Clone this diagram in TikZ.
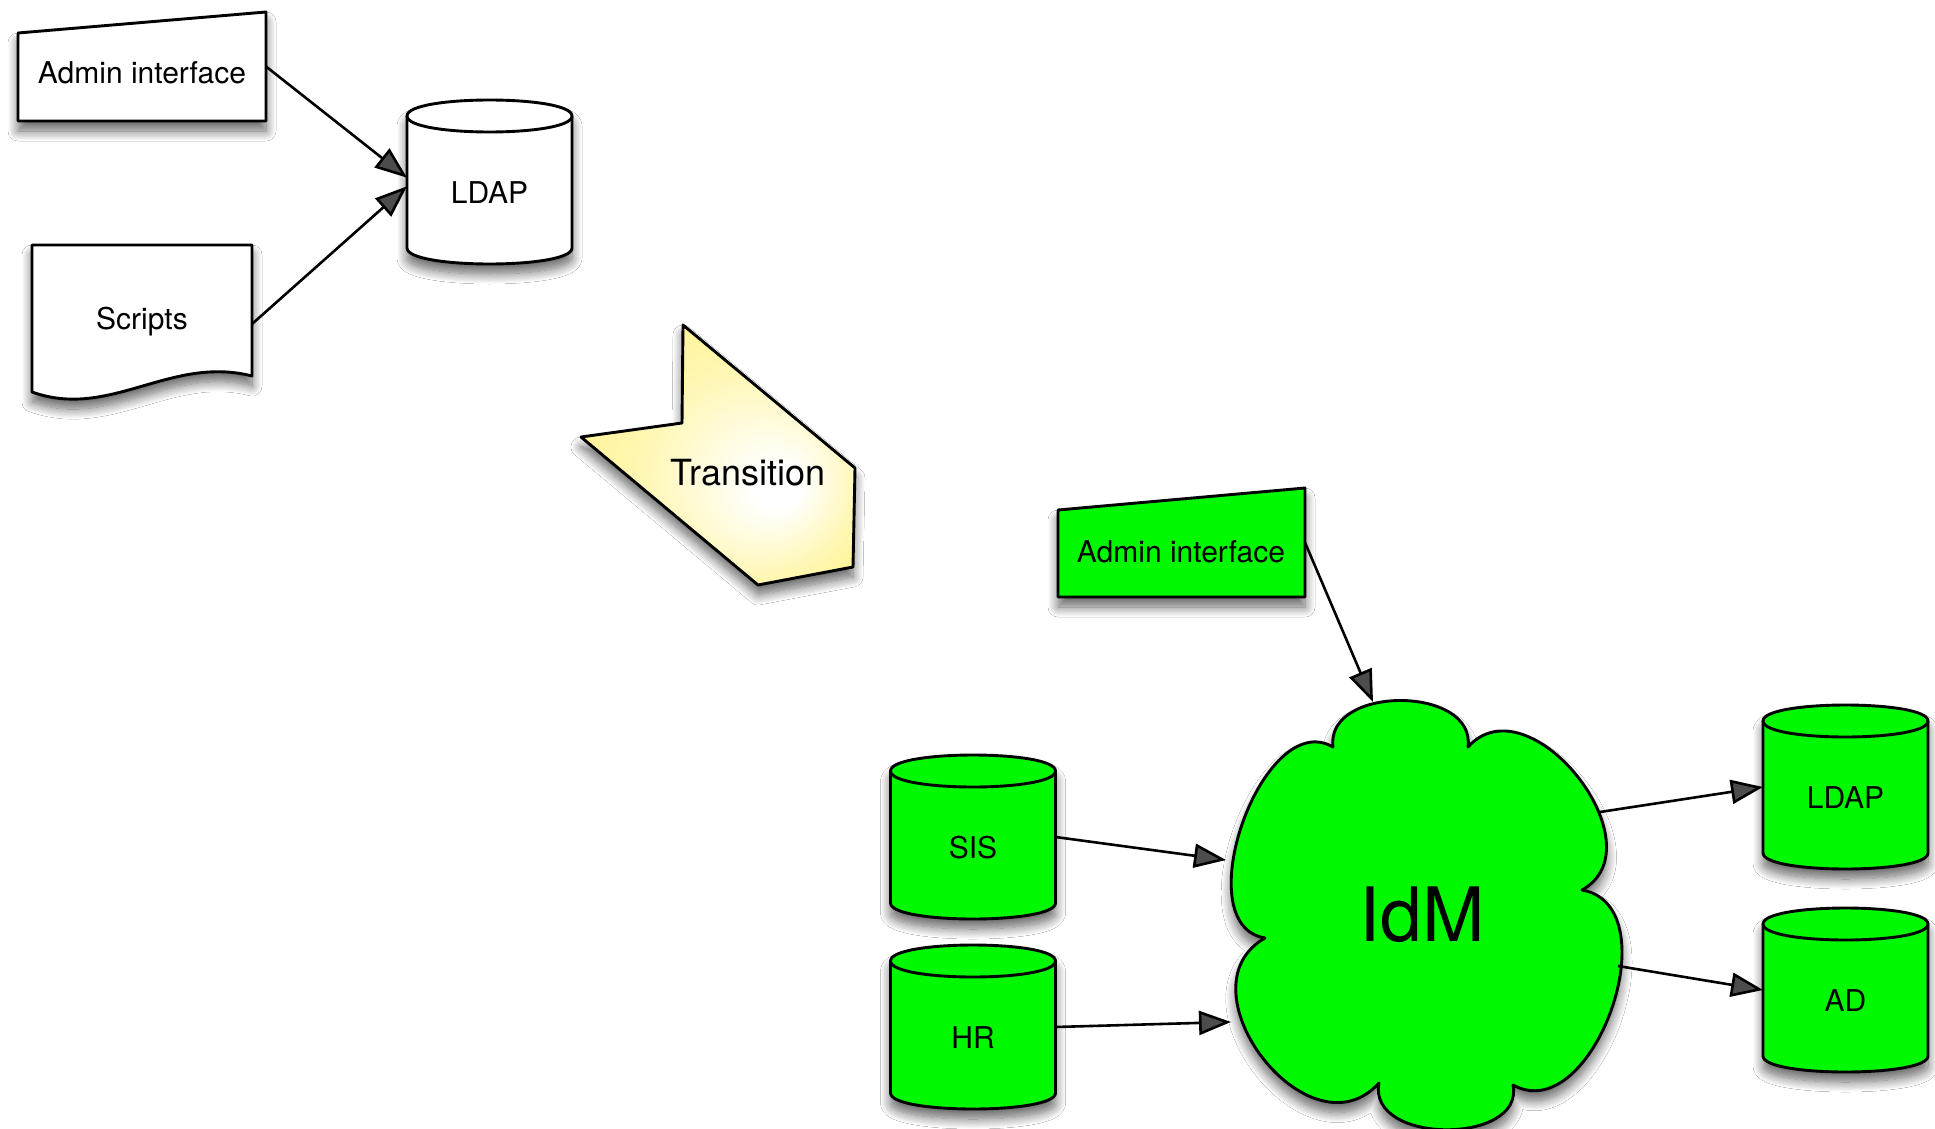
\documentclass[tikz,border=0pt]{standalone}
\usepackage{fontspec}
\setmainfont{TeX Gyre Heros}
\usetikzlibrary{arrows.meta,shadows.blur,calc}

\definecolor{idmgreen}{RGB}{0,248,0}
\definecolor{tyellow}{RGB}{255,240,118}
\pgfdeclareradialshading{transglow}{\pgfpoint{12bp}{-7bp}}{%
  color(0bp)=(white); color(4bp)=(white);
  color(20bp)=(tyellow!55!white); color(40bp)=(tyellow)}

\tikzset{
  outline/.style={draw=black, line width=2.9pt, line join=round},
  softshadow/.style={blur shadow={shadow xshift=0pt, shadow yshift=-10pt,
      shadow blur radius=10pt, shadow blur steps=14, shadow opacity=60}},
  link/.style={-{Triangle[length=32pt,width=24pt]}, line width=2.6pt},
  lbl/.style={font=\fontsize{30}{36}\selectfont, inner sep=0pt},
  box/.style={inner sep=0pt, outer sep=0pt, minimum width=#1},
}

% database cylinder: name, centre x, top y, fill, label
\newcommand\dbcyl[5]{%
  \path[outline, fill=#4, softshadow]
    (#2-82.5,#3+16) -- (#2-82.5,#3+148)
    .. controls (#2-82.5,#3+169.33) and (#2+82.5,#3+169.33) .. (#2+82.5,#3+148)
    -- (#2+82.5,#3+16)
    .. controls (#2+82.5,#3-5.33) and (#2-82.5,#3-5.33) .. cycle;
  \draw[outline] (#2-82.5,#3+16)
    .. controls (#2-82.5,#3+37.33) and (#2+82.5,#3+37.33) .. (#2+82.5,#3+16);
  \node[box=165pt, minimum height=164pt] (#1) at (#2,#3+82) {};
  \node[lbl] at (#2,#3+93) {#5};
}

\begin{document}
\begin{tikzpicture}[x=1pt, y=-1pt]
\useasboundingbox (0,0) rectangle (1935,1129);
\fill[white] (0,0) rectangle (1935,1129);

% ---- current setup ----
\path[outline, fill=white, softshadow]
  (18,33) -- (266,12) -- (266,121) -- (18,121) -- cycle;
\node[box=248pt, minimum height=109pt] (adminA) at (142,66.5) {};
\node[lbl] at (142,73) {Admin interface};

\path[outline, fill=white, softshadow]
  (32,245) -- (252,245) -- (252,376)
  .. controls (170,355) and (110,420) .. (32,392) -- cycle;
\node[box=220pt, minimum height=158pt] (scripts) at (142,324) {};
\node[lbl] at (142,322) {Scripts};

\dbcyl{ldapA}{489.5}{100}{white}{LDAP}

\draw[link] (adminA.east) -- (ldapA.177);
\draw[link] (scripts.east) -- (ldapA.183);

% ---- transition marker ----
\path[outline, shading=transglow, softshadow]
  (683,325) -- (855,468) -- (853,567) -- (758,585) -- (581,437) -- (682,423) -- cycle;
\node[font=\fontsize{36}{42}\selectfont, inner sep=0pt] (trans) at (748,473) {Transition};

% ---- identity management setup ----
\path[outline, fill=idmgreen, softshadow]
  (1058,510) -- (1305,488) -- (1305,597) -- (1058,597) -- cycle;
\node[box=247pt, minimum height=109pt] (adminB) at (1181.5,542.5) {};
\node[lbl] at (1181,552) {Admin interface};

\path[outline, fill=idmgreen, softshadow]
  (1333,747) .. controls (1325,685) and (1476,685) .. (1468,747)
  .. controls (1529,679) and (1661,846) .. (1582,890)
  .. controls (1672,906) and (1593,1129) .. (1513,1085)
  .. controls (1525,1145) and (1367,1145) .. (1379,1083)
  .. controls (1309,1160) and (1177,988) .. (1265,938)
  .. controls (1185,925) and (1263,706) .. cycle;
\node[font=\fontsize{75}{80}\selectfont, inner sep=0pt] (idm) at (1422,915) {IdM};
\coordinate (idm-n) at (1373,702);
\coordinate (idm-w1) at (1226,860);
\coordinate (idm-w2) at (1231,1022);
\coordinate (idm-e1) at (1600,812);
\coordinate (idm-e2) at (1618,966);

\dbcyl{sis}{973}{755}{idmgreen}{SIS}
\dbcyl{hr}{973}{945}{idmgreen}{HR}
\dbcyl{ldapB}{1845.5}{705}{idmgreen}{LDAP}
\dbcyl{ad}{1845.5}{908}{idmgreen}{AD}

\draw[link] (adminB.east) -- (idm-n);
\draw[link] (sis.east) -- (idm-w1);
\draw[link] (hr.east) -- (idm-w2);
\draw[link] (idm-e1) -- (ldapB.west);
\draw[link] (idm-e2) -- (ad.west);
\end{tikzpicture}
\end{document}
